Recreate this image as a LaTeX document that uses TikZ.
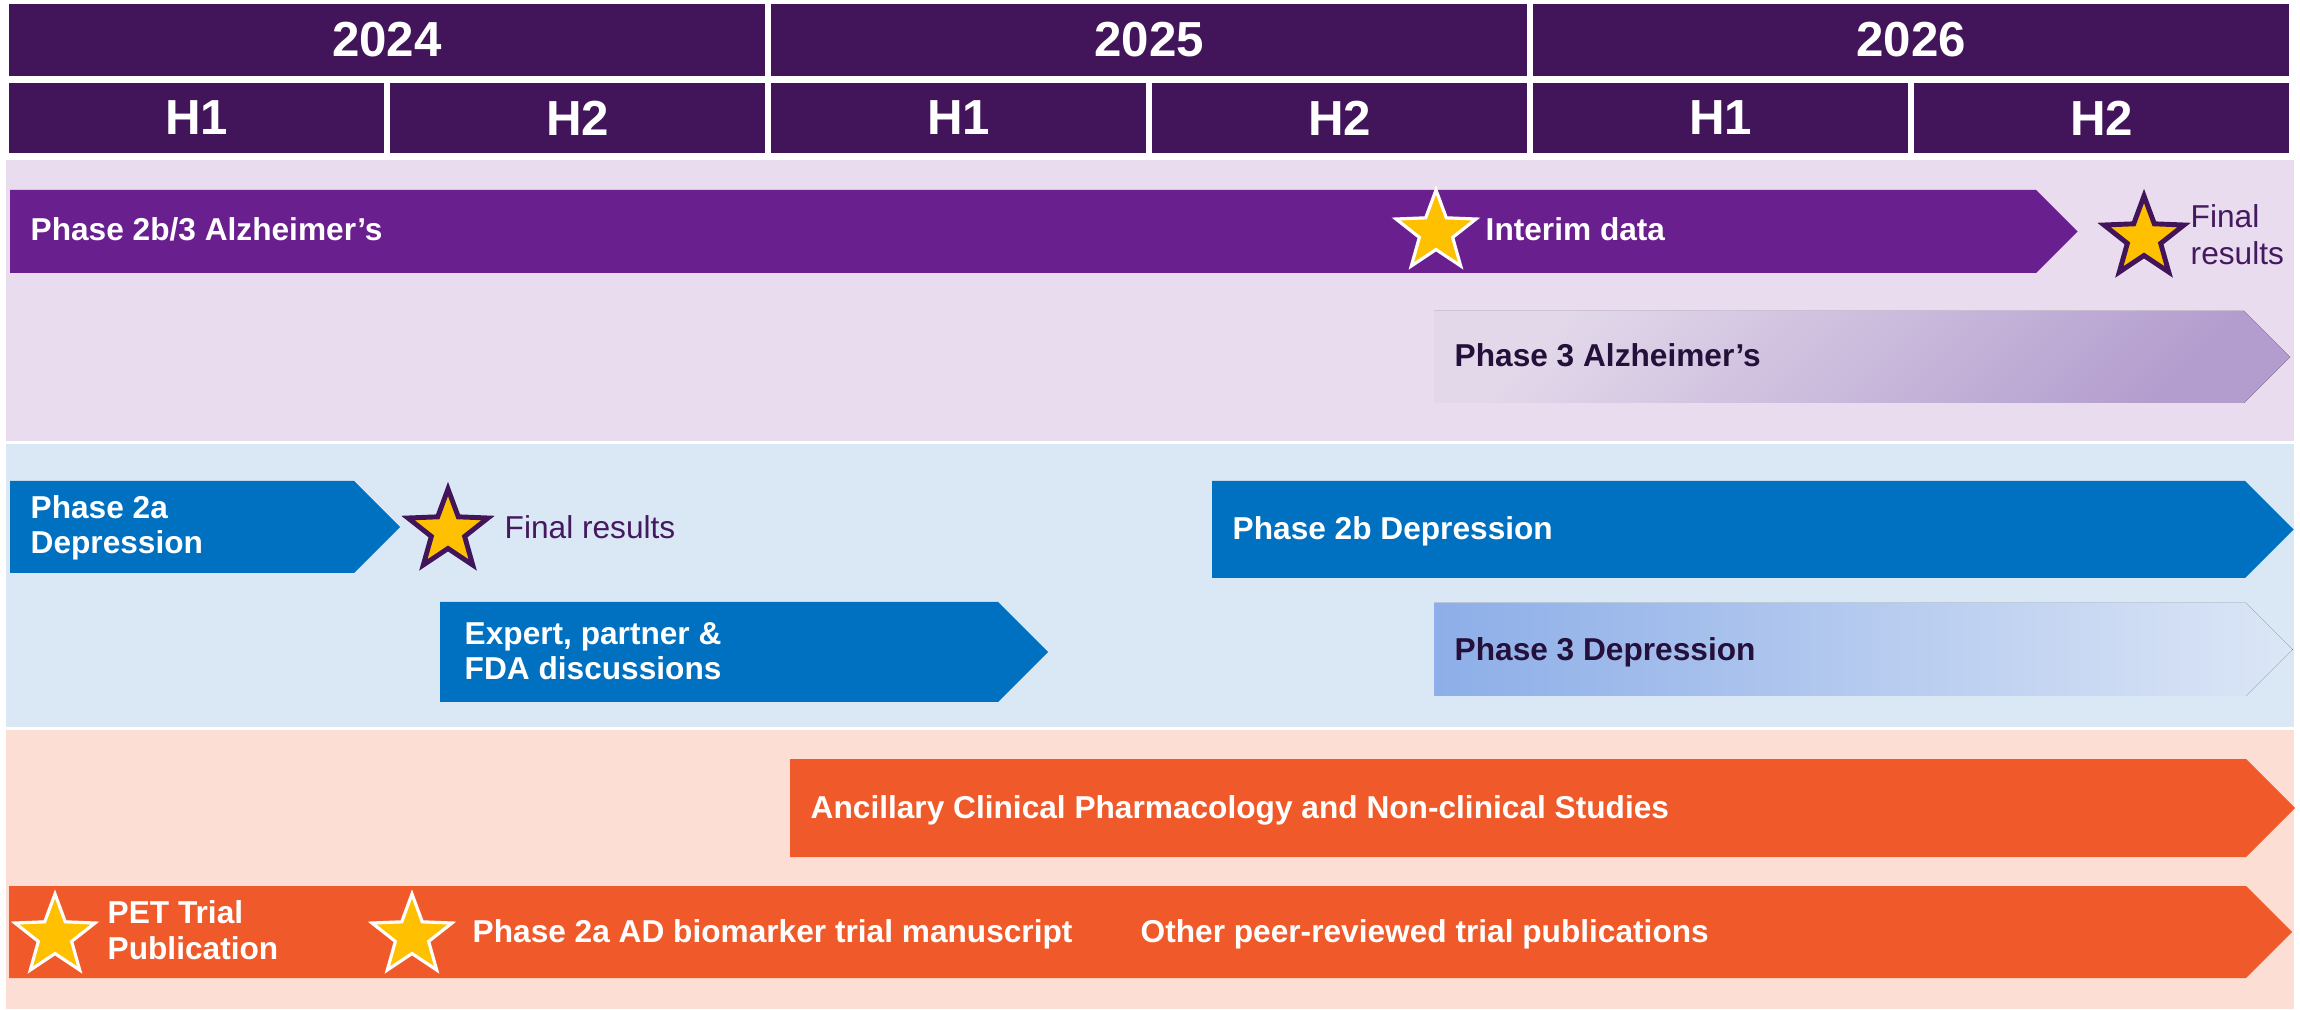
\documentclass[tikz,border=0pt]{standalone}
\usepackage{fontspec}
\setmainfont{Liberation Sans}
\usetikzlibrary{shapes.geometric}

\definecolor{hdrpurple}{HTML}{42155B}
\definecolor{alzband}{HTML}{E8DCEE}
\definecolor{alzbar}{HTML}{6A1F8F}
\definecolor{alzlight}{HTML}{E2D8EA}
\definecolor{alzdeep}{HTML}{B39DCE}
\definecolor{depband}{HTML}{DAE8F5}
\definecolor{depbar}{HTML}{0070C0}
\definecolor{deplight}{HTML}{DCE6F6}
\definecolor{depdeep}{HTML}{8DAEE8}
\definecolor{pubband}{HTML}{FCDED5}
\definecolor{pubbar}{HTML}{F05A2A}
\definecolor{gold}{HTML}{FFC000}
\definecolor{inktext}{HTML}{45195F}
\definecolor{deepink}{HTML}{24103A}

% bar with a pointed right end: [style]{left}{top}{body end}{bottom}
\newcommand{\phasebar}[5][]{%
  \pgfmathsetmacro{\tipx}{#4+(#5-#3)/2}
  \pgfmathsetmacro{\midy}{(#3+#5)/2}
  \fill[#1] (#2,#3) -- (#4,#3) -- (\tipx,\midy) -- (#4,#5) -- (#2,#5) -- cycle;
}

\begin{document}
\begin{tikzpicture}[x=0.01cm,y=-0.01cm,
    year/.style={fill=hdrpurple,text=white,inner sep=0,
                 font=\bfseries\fontsize{14}{16}\selectfont,
                 minimum width=7.56cm,minimum height=0.72cm},
    half/.style={year,minimum width=3.75cm,minimum height=0.70cm},
    bartext/.style={anchor=base west,inner sep=0,align=left,text=white,
                    font=\bfseries\fontsize{9}{10}\selectfont},
    darktext/.style={bartext,text=deepink},
    note/.style={anchor=base west,inner sep=0,align=left,text=inktext,
                 font=\fontsize{9}{10.8}\selectfont},
    milestone/.style={star,star points=5,star point ratio=2.4,inner sep=0,
                      minimum size=0.84cm,fill=gold},
    whitestar/.style={milestone,draw=white,line width=0.9pt},
    inkstar/.style={milestone,draw=hdrpurple,line width=1.4pt}]

  \useasboundingbox (0,0) rectangle (2300,1010);

  % timeline header
  \foreach \yr [count=\i from 0] in {2024,2025,2026}
    \node[year] (y\yr) at (387+762*\i,40) {\yr};
  \foreach \i in {0,...,5} {
    \pgfmathtruncatemacro{\h}{mod(\i,2)+1}
    \node[half] (h\i) at (196.5+381*\i,118) {H\h};
  }

  % programme bands
  \fill[alzband] (6,160) rectangle (2294,441);
  \fill[depband] (6,444) rectangle (2294,727);
  \fill[pubband] (6,730) rectangle (2294,1009);

  % Alzheimer's (two-line labels sit on their last baseline)
  \phasebar[alzbar]{10}{190}{2036}{273}
  \phasebar[top color=alzlight,bottom color=alzdeep,shading angle=45]{1434}{311}{2244}{403}
  \node[bartext] (p2b3) at (30,241) {Phase 2b/3 Alzheimer’s};
  \node[whitestar] (sint) at (1436,232) {};
  \node[bartext] (interim) at (1485,241) {Interim data};
  \node[inkstar] (salz) at (2144,238) {};
  \node[note] (finalalz) at (2190,265) {Final\\results};
  \node[darktext] (p3alz) at (1454,367) {Phase 3 Alzheimer’s};

  % Depression
  \phasebar[depbar]{10}{481}{354}{573}
  \phasebar[depbar]{1212}{481}{2245}{578}
  \phasebar[depbar]{440}{602}{998}{702}
  \phasebar[left color=depdeep,right color=deplight]{1434}{603}{2246}{696}
  \node[bartext] (p2a) at (30,554) {Phase 2a\\Depression};
  \node[inkstar] (sdep) at (448,531) {};
  \node[note] (finaldep) at (504,539) {Final results};
  \node[bartext] (p2b) at (1232,540) {Phase 2b Depression};
  \node[bartext] (talks) at (464,680) {Expert, partner \&\\FDA discussions};
  \node[darktext] (p3dep) at (1454,660) {Phase 3 Depression};

  % studies and publications
  \phasebar[pubbar]{790}{759}{2246}{857}
  \phasebar[pubbar]{9}{886}{2246}{978}
  \node[bartext] (ancillary) at (810,818) {Ancillary Clinical Pharmacology and Non-clinical Studies};
  \node[whitestar] (spet) at (55,936) {};
  \node[bartext] (pet) at (107,959) {PET Trial\\Publication};
  \node[whitestar] (sbio) at (412,936) {};
  \node[bartext] (biomarker) at (472,942) {Phase 2a AD biomarker trial manuscript};
  \node[bartext] (otherpubs) at (1140,942) {Other peer-reviewed trial publications};
\end{tikzpicture}
\end{document}
